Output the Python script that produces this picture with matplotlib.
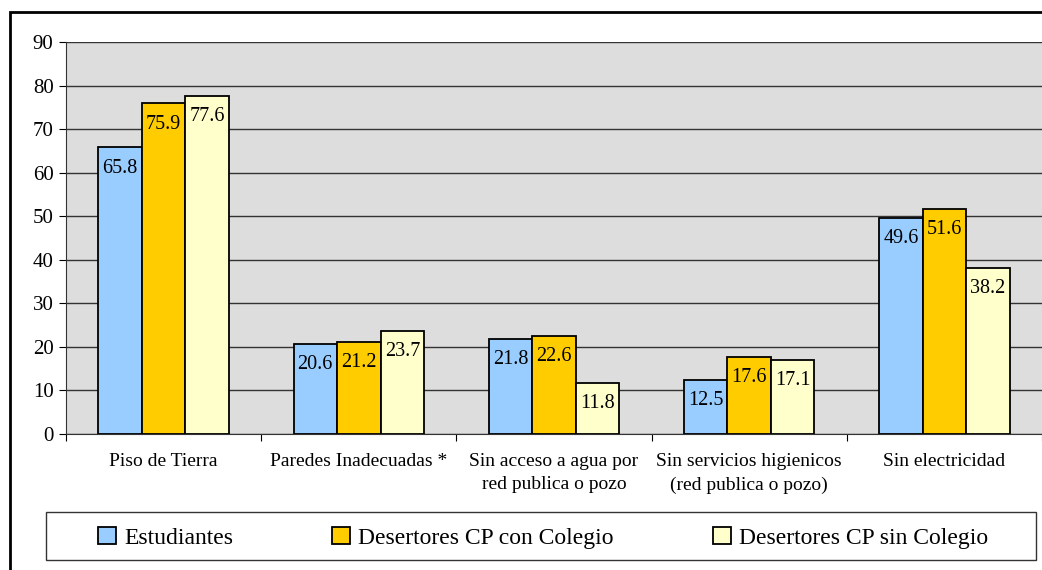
import matplotlib.pyplot as plt
import numpy as np
from matplotlib.patches import Rectangle

plt.rcParams['font.family'] = ['Liberation Serif', 'DejaVu Serif']

# datos
categorias = ['Piso de Tierra', 'Paredes Inadecuadas *',
              'Sin acceso a agua por\nred publica o pozo',
              'Sin servicios higienicos\n(red publica o pozo)',
              'Sin electricidad']
series = ['Estudiantes', 'Desertores CP con Colegio', 'Desertores CP sin Colegio']
estudiantes = [65.8, 20.6, 21.8, 12.5, 49.6]
desertores_con = [75.9, 21.2, 22.6, 17.6, 51.6]
desertores_sin = [77.6, 23.7, 11.8, 17.1, 38.2]
colores = ['#99CCFF', '#FFCC00', '#FFFFCC']

fig = plt.figure(figsize=(10.42, 5.70), dpi=100)
ax = fig.add_axes([66 / 1042, 1 - 434 / 570, 1 - 66 / 1042, (434 - 42) / 570])
ax.set_facecolor('#DDDDDD')

x = np.arange(len(categorias))
w = 0.223
valores = [estudiantes, desertores_con, desertores_sin]
for i, (vals, nombre, c) in enumerate(zip(valores, series, colores)):
    pos = x + (i - 1) * w
    ax.bar(pos, vals, width=w, color=c, edgecolor='black', linewidth=1.3,
           label=nombre, zorder=3)
    for px, v in zip(pos, vals):
        ax.annotate(f'{v:.1f}', (px, v), xytext=(0, -8), textcoords='offset points',
                    ha='center', va='top', fontsize=14.5, zorder=4)

ax.set_xlim(-0.5, len(categorias) - 0.5)
ax.set_ylim(0, 90)
ax.set_yticks(np.arange(0, 91, 10))
ax.yaxis.grid(True, color='#333333', linewidth=1, zorder=0)
ax.set_axisbelow(True)

# ticks entre categorias, etiquetas centradas
ax.set_xticks(np.arange(-0.5, len(categorias), 1.0))
ax.set_xticklabels([])
ax.set_xticks(x, minor=True)
ax.set_xticklabels(categorias, minor=True, fontsize=14, linespacing=1.45)
ax.tick_params(axis='x', which='minor', length=0, pad=14)
ax.tick_params(axis='x', which='major', length=5, direction='out')
ax.tick_params(axis='y', length=5, direction='out', labelsize=15, pad=4)
for s in ['top', 'right']:
    ax.spines[s].set_visible(False)
ax.spines['left'].set_color('#333333')
ax.spines['bottom'].set_color('#333333')

# leyenda con marco propio
fig.patches.append(Rectangle((46 / 1042, 1 - 560 / 570), 990 / 1042, 48 / 570,
                             transform=fig.transFigure, fill=False,
                             edgecolor='#333333', linewidth=1))
fig.legend(loc='center', bbox_to_anchor=(543 / 1042, 1 - 538 / 570),
           ncol=3, fontsize=17, frameon=False, columnspacing=4.2,
           handlelength=0.75, handleheight=0.75, handletextpad=0.35, borderaxespad=0)

# marco exterior
fig.patches.append(Rectangle((10 / 1042, -0.1), 1.2, 1 - 12 / 570 + 0.1,
                             transform=fig.transFigure, fill=False,
                             edgecolor='black', linewidth=2))

fig.savefig('out.png', dpi=100)
